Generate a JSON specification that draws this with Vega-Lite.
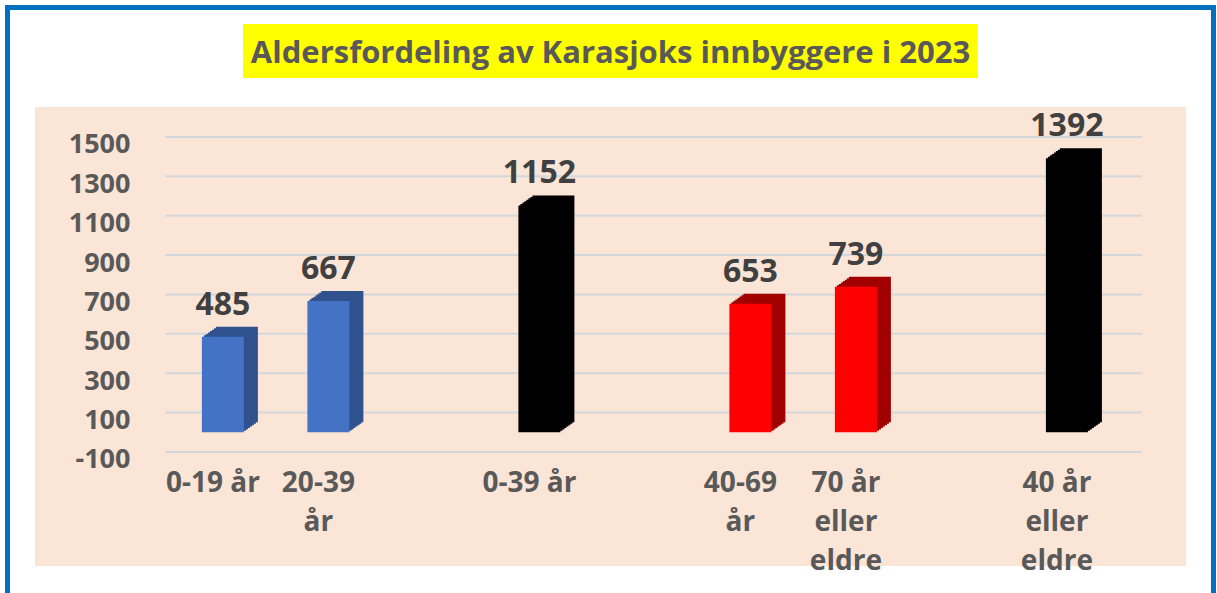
{
  "$schema": "https://vega.github.io/schema/vega-lite/v6.json",
  "background": "white",
  "padding": {"left": 5, "top": 5, "right": 0, "bottom": 0},
  "spacing": 0,
  "config": {"view": {"stroke": null}, "font": "Open Sans", "concat": {"spacing": 0}},
  "datasets": {
    "befolkning": [
      {"Aldersgruppe": "0-19 år", "Antall": 485, "Gruppe": "0-39 år"},
      {"Aldersgruppe": "20-39 år", "Antall": 667, "Gruppe": "0-39 år"},
      {"Aldersgruppe": "0-39 år", "Antall": 1152, "Gruppe": "Sum"},
      {"Aldersgruppe": "40-69 år", "Antall": 653, "Gruppe": "40+"},
      {"Aldersgruppe": "70 år eller eldre", "Antall": 739, "Gruppe": "40+"},
      {"Aldersgruppe": "40 år eller eldre", "Antall": 1392, "Gruppe": "Sum"}
    ],
    "rutenett": [{"Antall": -100}, {"Antall": 100}, {"Antall": 300}, {"Antall": 500}, {"Antall": 700}, {"Antall": 900}, {"Antall": 1100}, {"Antall": 1300}, {"Antall": 1500}],
    "tittel": [{"tekst": "Aldersfordeling av Karasjoks innbyggere i 2023"}],
    "ramme": [{}]
  },
  "hconcat": [
    {
      "data": {"name": "ramme"},
      "width": 5, "height": 600,
      "view": {"fill": "#0070C0", "stroke": null},
      "mark": {"type": "rect", "color": "#0070C0"}
    },
    {
      "spacing": 14,
      "center": true,
      "vconcat": [
        {
          "data": {"name": "ramme"},
          "width": 1201, "height": 5,
          "view": {"fill": "#0070C0", "stroke": null},
          "mark": {"type": "rect", "color": "#0070C0"}
        },
        {
          "spacing": 29,
          "center": true,
          "vconcat": [
            {
              "data": {"name": "tittel"},
              "width": 735, "height": 54,
              "view": {"fill": "#FFFF00", "stroke": null},
              "mark": {"type": "text", "font": "Open Sans", "fontWeight": "bold", "fontSize": 31, "color": "#595959", "baseline": "alphabetic", "dy": 12},
              "encoding": {"text": {"field": "tekst"}}
            },
            {
              "width": 1151, "height": 459,
              "view": {"fill": "#FBE5D6", "stroke": null},
              "data": {"name": "befolkning"},
              "encoding": {
                "x": {
                  "field": "Aldersgruppe", "type": "nominal", "sort": null,
                  "scale": {"type": "band", "domain": ["0-19 år", "20-39 år", " ", "0-39 år", "  ", "40-69 år", "70 år eller eldre", "   ", "40 år eller eldre"], "paddingInner": 0.09, "paddingOuter": 1, "align": 0.663},
                  "axis": {
                    "title": null, "domain": false, "ticks": false, "tickSize": 0, "grid": false,
                    "offset": -75, "labelPadding": 0, "labelBaseline": "alphabetic", "labelAngle": 0, "labelOffset": -10,
                    "labelFont": "Open Sans", "labelFontSize": 28, "labelFontWeight": "bold", "labelColor": "#595959",
                    "labelLineHeight": 39, "labelLimit": 0,
                    "labelExpr": "datum.label == '20-39 år' ? ['20-39', 'år'] : datum.label == '40-69 år' ? ['40-69', 'år'] : datum.label == '70 år eller eldre' ? ['70 år', 'eller', 'eldre'] : datum.label == '40 år eller eldre' ? ['40 år', 'eller', 'eldre'] : datum.label"
                  }
                },
                "y": {
                  "field": "Antall", "type": "quantitative",
                  "scale": {"domain": [-679, 1652], "nice": false, "zero": false},
                  "axis": {
                    "values": [-100, 100, 300, 500, 700, 900, 1100, 1300, 1500],
                    "labelExpr": "'' + datum.value",
                    "title": null, "domain": false, "ticks": false, "tickSize": 0, "grid": false,
                    "offset": -95, "labelPadding": 0, "labelOffset": 8,
                    "labelFont": "Open Sans", "labelFontSize": 27, "labelFontWeight": "bold", "labelColor": "#595959"
                  }
                }
              },
              "layer": [
                {
                  "data": {"name": "rutenett"},
                  "mark": {"type": "rule", "color": "#D3D7DC", "strokeWidth": 2},
                  "encoding": {
                    "x": {"datum": "0-19 år", "bandPosition": -0.1},
                    "x2": {"datum": "40 år eller eldre", "bandPosition": 1.28}
                  }
                },
                {"mark": {"type": "bar", "width": 42, "xOffset": 2, "x2Offset": 2, "yOffset": -1.43, "y2Offset": -1.43}, "encoding": {"y2": {"datum": 0}, "fill": {"field": "Gruppe", "type": "nominal", "scale": {"domain": ["0-39 år", "Sum", "40+"], "range": ["#2F528F", "#000000", "#A00000"]}, "legend": null}}},
                {"mark": {"type": "bar", "width": 42, "xOffset": 4, "x2Offset": 4, "yOffset": -2.86, "y2Offset": -2.86}, "encoding": {"y2": {"datum": 0}, "fill": {"field": "Gruppe", "type": "nominal", "legend": null}}},
                {"mark": {"type": "bar", "width": 42, "xOffset": 6, "x2Offset": 6, "yOffset": -4.29, "y2Offset": -4.29}, "encoding": {"y2": {"datum": 0}, "fill": {"field": "Gruppe", "type": "nominal", "legend": null}}},
                {"mark": {"type": "bar", "width": 42, "xOffset": 8, "x2Offset": 8, "yOffset": -5.71, "y2Offset": -5.71}, "encoding": {"y2": {"datum": 0}, "fill": {"field": "Gruppe", "type": "nominal", "legend": null}}},
                {"mark": {"type": "bar", "width": 42, "xOffset": 10, "x2Offset": 10, "yOffset": -7.14, "y2Offset": -7.14}, "encoding": {"y2": {"datum": 0}, "fill": {"field": "Gruppe", "type": "nominal", "legend": null}}},
                {"mark": {"type": "bar", "width": 42, "xOffset": 12, "x2Offset": 12, "yOffset": -8.57, "y2Offset": -8.57}, "encoding": {"y2": {"datum": 0}, "fill": {"field": "Gruppe", "type": "nominal", "legend": null}}},
                {"mark": {"type": "bar", "width": 42, "xOffset": 14, "x2Offset": 14, "yOffset": -10, "y2Offset": -10}, "encoding": {"y2": {"datum": 0}, "fill": {"field": "Gruppe", "type": "nominal", "legend": null}}},
                {
                  "mark": {"type": "bar", "width": 42},
                  "encoding": {
                    "y2": {"datum": 0},
                    "color": {"field": "Gruppe", "type": "nominal", "scale": {"domain": ["0-39 år", "Sum", "40+"], "range": ["#4472C4", "#000000", "#FF0000"]}, "legend": null}
                  }
                },
                {
                  "mark": {"type": "text", "font": "Open Sans", "fontWeight": "bold", "fontSize": 32, "color": "#404040", "baseline": "alphabetic", "dy": -22},
                  "encoding": {"text": {"field": "Antall", "type": "quantitative"}}
                }
              ]
            }
          ]
        }
      ]
    },
    {
      "data": {"name": "ramme"},
      "width": 5, "height": 600,
      "view": {"fill": "#0070C0", "stroke": null},
      "mark": {"type": "rect", "color": "#0070C0"}
    }
  ]
}
